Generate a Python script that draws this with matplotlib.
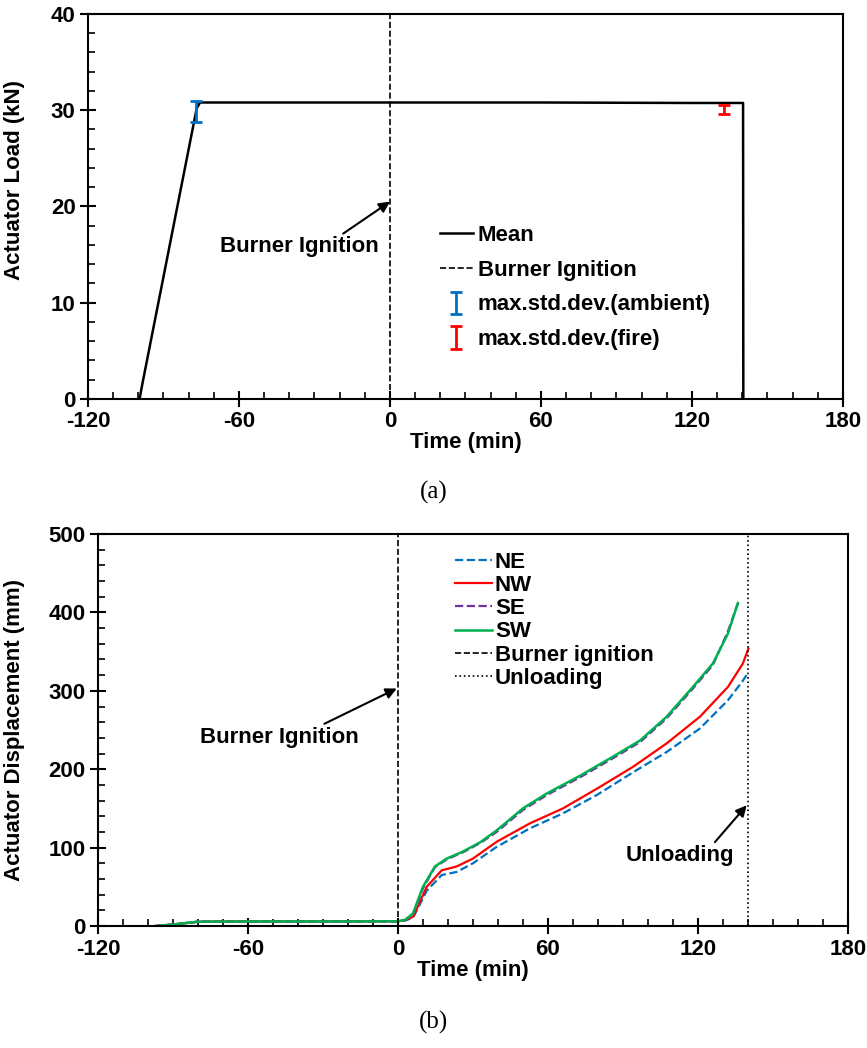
import matplotlib.pyplot as plt
from matplotlib.ticker import MultipleLocator

plt.rcParams['font.family'] = ['Liberation Sans', 'DejaVu Sans']
plt.rcParams['font.weight'] = 'bold'
plt.rcParams['axes.unicode_minus'] = False

# (a) actuator load
load_t = [-99.5, -98.8, -98.3, -76.8, -75.5, 0, 60, 120, 140.3, 140.4]
load_kn = [0.0, 1.0, 1.7, 30.2, 30.8, 30.8, 30.8, 30.75, 30.75, 0.0]
amb_t, amb_kn, amb_err = [-77.0], [29.9], [1.1]
fire_t, fire_kn, fire_err = [132.7], [30.05], [0.45]

# (b) actuator displacement
sw_t = [-97, -90, -80, -60, -30, 0, 3, 6, 10, 14.8, 19.5, 26, 33, 39.5, 50, 59.5, 73, 86, 97, 107.5, 118, 126, 132, 136]
sw_d = [0, 2, 5.5, 5.8, 5.8, 6, 8, 16, 50, 76, 86, 95, 107, 122, 150, 169, 192, 216, 237, 267, 305, 335, 373, 412]
se_t = [-97, -90, -80, -60, -30, 0, 3, 6, 10, 14.8, 19.5, 26, 33, 39.5, 50, 59.5, 73, 86, 97, 107.5, 118, 126, 132, 136]
se_d = [0, 2, 5.5, 5.8, 5.8, 6, 8, 15, 48, 75, 85, 94, 106, 120, 148, 167, 190, 214, 235, 265, 303, 333, 376, 412]
nw_t = [-97, -90, -80, -60, -30, 0, 3, 6.1, 11.5, 17.5, 23.5, 30, 39.5, 52.8, 66, 79.5, 94, 107.5, 120.8, 132, 138, 140.2]
nw_d = [0, 2, 5.5, 5.8, 5.8, 6, 7.5, 12, 50, 71, 76, 86, 107.5, 131, 150, 175, 203, 233, 267, 305, 335, 354]
ne_t = [-97, -90, -80, -60, -30, 0, 3, 6.1, 11.5, 17.5, 23.5, 30, 39.5, 52.8, 66, 79.5, 94, 107.5, 120.8, 132, 138, 140.2]
ne_d = [0, 2, 5.5, 5.8, 5.8, 6, 7, 11, 45, 65, 69, 80, 101, 124.6, 143.7, 167, 196, 222, 252, 288, 313, 324]

fig = plt.figure(figsize=(8.67, 10.48), dpi=100)
ax1 = fig.add_axes([0.1015, 0.6193, 0.8708, 0.3674])
ax2 = fig.add_axes([0.1130, 0.1164, 0.8650, 0.3740])


def style(ax):
    for s in ax.spines.values():
        s.set_linewidth(1.5)
    ax.set_xlim(-120, 180)
    ax.xaxis.set_major_locator(MultipleLocator(60))
    ax.xaxis.set_minor_locator(MultipleLocator(10))
    ax.tick_params(which='major', direction='inout', length=12, width=1.5, labelsize=16, pad=3)
    ax.tick_params(which='minor', direction='in', length=5, width=1.2)
    ax.tick_params(top=False, right=False, which='both')
    for lab in ax.get_xticklabels() + ax.get_yticklabels():
        lab.set_fontweight('bold')
    ax.set_xlabel('Time (min)', fontsize=16, fontweight='bold', labelpad=0)


ax1.plot(load_t, load_kn, color='black', lw=1.8, label='Mean')
ax1.axvline(0, color='black', ls='--', lw=1.2, label='Burner Ignition')
ax1.errorbar(amb_t, amb_kn, yerr=amb_err, fmt='none', ecolor='#0070C0', elinewidth=2, capsize=4, capthick=2,
             label='max.std.dev.(ambient)')
ax1.errorbar(fire_t, fire_kn, yerr=fire_err, fmt='none', ecolor='#FF0000', elinewidth=2, capsize=4, capthick=2,
             label='max.std.dev.(fire)')
ax1.set_ylim(0, 40)
ax1.yaxis.set_major_locator(MultipleLocator(10))
ax1.yaxis.set_minor_locator(MultipleLocator(2))
style(ax1)
ax1.set_ylabel('Actuator Load (kN)', fontsize=16, fontweight='bold')
ax1.yaxis.set_label_coords(-0.083, 0.57)
ax1.annotate('Burner Ignition', xy=(0, 20.5), xytext=(-36, 15.8), fontsize=16, fontweight='bold',
             ha='center', va='center',
             arrowprops=dict(arrowstyle='-|>', color='black', lw=1.5, shrinkA=0, shrinkB=0,
                             relpos=(0.75, 1.0)))
ax1.legend(loc='upper left', bbox_to_anchor=(0.466, 0.452), frameon=False, fontsize=16,
           handlelength=1.5, handletextpad=0.2, labelspacing=0.62, borderpad=0, borderaxespad=0)

ax2.plot(ne_t, ne_d, color='#0070C0', ls='--', lw=1.6, label='NE')
ax2.plot(nw_t, nw_d, color='#FF0000', lw=1.6, label='NW')
ax2.plot(se_t, se_d, color='#7030A0', ls='--', lw=1.6, label='SE')
ax2.plot(sw_t, sw_d, color='#00B050', lw=1.8, label='SW')
ax2.axvline(0, color='black', ls='--', lw=1.2, label='Burner ignition')
ax2.axvline(140, color='black', ls=':', lw=1.2, label='Unloading')
ax2.set_ylim(0, 500)
ax2.yaxis.set_major_locator(MultipleLocator(100))
ax2.yaxis.set_minor_locator(MultipleLocator(20))
style(ax2)
ax2.set_ylabel('Actuator Displacement (mm)', fontsize=16, fontweight='bold')
ax2.yaxis.set_label_coords(-0.097, 0.5)
ax2.annotate('Burner Ignition', xy=(-0.5, 303), xytext=(-47.6, 241), fontsize=16, fontweight='bold',
             ha='center', va='center',
             arrowprops=dict(arrowstyle='-|>', color='black', lw=1.5, shrinkA=0, shrinkB=0,
                             relpos=(0.75, 1.0)))
ax2.annotate('Unloading', xy=(139.5, 154), xytext=(112.8, 90), fontsize=16, fontweight='bold',
             ha='center', va='center',
             arrowprops=dict(arrowstyle='-|>', color='black', lw=1.5, shrinkA=0, shrinkB=0,
                             relpos=(0.8, 1.0)))
ax2.legend(loc='upper left', bbox_to_anchor=(0.476, 0.955), frameon=False, fontsize=16,
           handlelength=1.65, handletextpad=0.15, labelspacing=0.1, borderpad=0, borderaxespad=0)

fig.text(0.5, 1 - 492 / 1048, '(a)', ha='center', va='center', fontsize=18,
         family='Liberation Serif', fontweight='normal')
fig.text(0.5, 1 - 1022 / 1048, '(b)', ha='center', va='center', fontsize=18,
         family='Liberation Serif', fontweight='normal')

fig.savefig('out.png', dpi=100)
